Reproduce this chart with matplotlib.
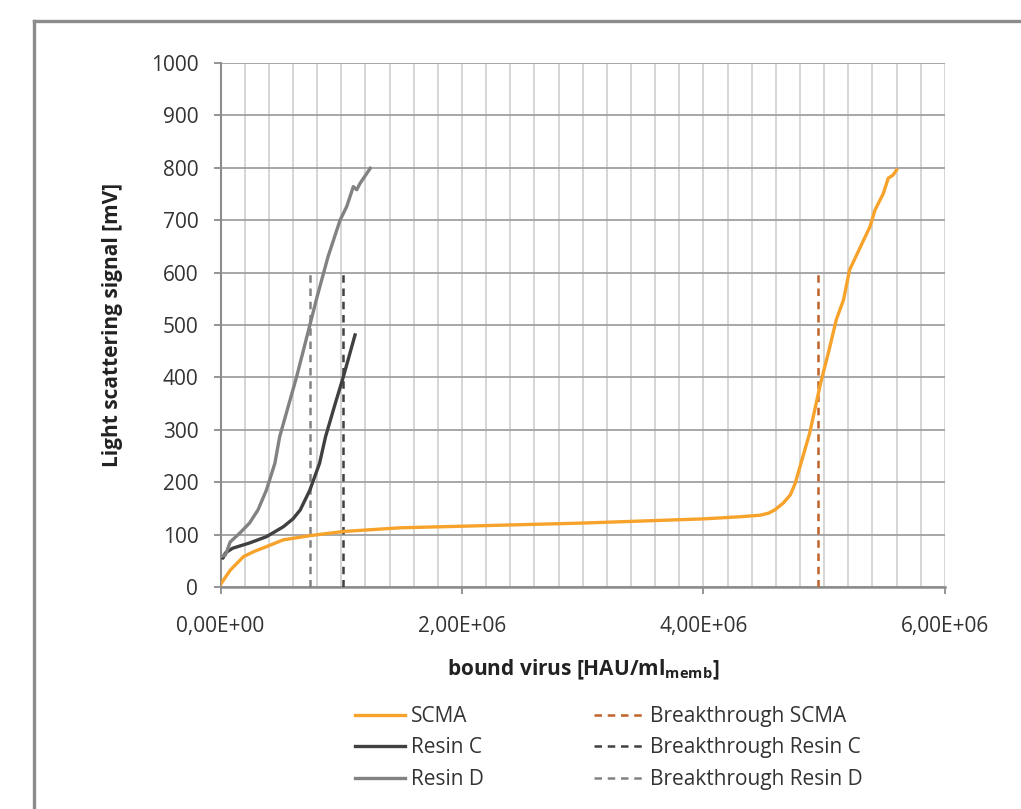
import matplotlib
matplotlib.use("Agg")
import matplotlib.pyplot as plt
from matplotlib.ticker import FuncFormatter, MultipleLocator
from matplotlib.lines import Line2D

plt.rcParams['font.family'] = ['Open Sans', 'DejaVu Sans']

# bound virus [HAU/ml_memb] vs light scattering signal [mV]
scma_x = [0, 0.08e6, 0.19e6, 0.28e6, 0.38e6, 0.52e6, 0.74e6, 1.02e6, 1.49e6, 2.0e6,
          2.5e6, 3.0e6, 3.5e6, 4.0e6, 4.30e6, 4.47e6, 4.54e6, 4.59e6, 4.66e6,
          4.72e6, 4.76e6, 4.80e6, 4.88e6, 4.97e6, 5.04e6, 5.10e6, 5.16e6, 5.21e6,
          5.30e6, 5.38e6, 5.42e6, 5.49e6, 5.53e6, 5.57e6, 5.60e6]
scma_y = [5, 32, 58, 68, 77, 90, 98, 106, 113, 116,
          119, 122, 126, 130, 134, 137, 141, 147, 160,
          176, 198, 230, 294, 389, 452, 510, 548, 605,
          649, 688, 719, 751, 780, 786, 796]

resin_c_x = [0, 0.02e6, 0.04e6, 0.10e6, 0.24e6, 0.38e6, 0.52e6, 0.60e6, 0.66e6,
             0.74e6, 0.82e6, 0.87e6, 0.95e6, 1.017e6, 1.114e6]
resin_c_y = [58, 55, 65, 74, 84, 96, 115, 130, 147,
             185, 236, 287, 350, 401, 481]

resin_d_x = [0, 0.04e6, 0.08e6, 0.16e6, 0.24e6, 0.31e6, 0.38e6, 0.45e6, 0.49e6,
             0.63e6, 0.74e6, 0.80e6, 0.89e6, 0.99e6, 1.045e6, 1.10e6, 1.128e6,
             1.155e6, 1.24e6]
resin_d_y = [58, 61, 86, 103, 122, 147, 185, 236, 287,
             401, 500, 554, 630, 700, 726, 764, 758,
             770, 799]

breakthrough = {'SCMA': 4.95e6, 'Resin C': 1.017e6, 'Resin D': 0.741e6}
breakthrough_top = 600

orange = '#F7A22B'
dark = '#404040'
grey = '#828282'
brown = '#C0622A'

fig = plt.figure(figsize=(10.21, 8.09), dpi=100)
ax = fig.add_axes([0.216, 0.2744, 0.7095, 0.6478])

# outer frame
fig.add_artist(Line2D([0.0333, 0.0333], [0, 0.974], color='#8c8c8c', lw=2.4,
                      transform=fig.transFigure))
fig.add_artist(Line2D([0.0333, 1.0], [0.974, 0.974], color='#8c8c8c', lw=2.4,
                      transform=fig.transFigure))

ax.plot(scma_x, scma_y, color=orange, lw=2.4, label='SCMA', zorder=4)
ax.plot(resin_c_x, resin_c_y, color=dark, lw=2.4, label='Resin C', zorder=4)
ax.plot(resin_d_x, resin_d_y, color=grey, lw=2.4, label='Resin D', zorder=4)

dash = (0, (3, 2.3))
ax.plot([breakthrough['SCMA']] * 2, [0, breakthrough_top], color=brown, lw=1.8,
        ls=dash, label='Breakthrough SCMA', zorder=3)
ax.plot([breakthrough['Resin C']] * 2, [0, breakthrough_top], color=dark, lw=1.8,
        ls=dash, label='Breakthrough Resin C', zorder=3)
ax.plot([breakthrough['Resin D']] * 2, [0, breakthrough_top], color=grey, lw=1.8,
        ls=dash, label='Breakthrough Resin D', zorder=3)

ax.set_xlim(0, 6e6)
ax.set_ylim(0, 1000)
ax.xaxis.set_major_locator(MultipleLocator(2e6))
ax.xaxis.set_minor_locator(MultipleLocator(2e5))
ax.yaxis.set_major_locator(MultipleLocator(100))
ax.xaxis.set_major_formatter(FuncFormatter(lambda v, p: ('%.2E' % v).replace('.', ',')))

ax.grid(True, which='minor', axis='x', color='#D2D2D2', lw=1.3)
ax.grid(True, which='major', axis='x', color='#D2D2D2', lw=1.3)
ax.grid(True, which='major', axis='y', color='#A0A0A0', lw=1.3)
ax.set_axisbelow(True)

for s in ['top', 'right']:
    ax.spines[s].set_visible(False)
ax.spines['left'].set_color('#8c8c8c')
ax.spines['bottom'].set_color('#8c8c8c')
ax.spines['left'].set_linewidth(1.5)
ax.spines['bottom'].set_linewidth(1.8)

ax.tick_params(axis='both', which='major', length=5, color='#8c8c8c', width=1.3,
               labelsize=15, labelcolor='#333333')
ax.tick_params(axis='y', pad=11)
ax.tick_params(axis='x', pad=16)
ax.tick_params(axis='x', which='minor', length=0)

ax.set_ylabel('Light scattering signal [mV]', fontsize=15, fontweight='bold',
              color='#222222', labelpad=20)
ax.set_xlabel(r'bound virus [HAU/ml$_{\mathregular{memb}}$]', fontsize=15,
              fontweight='bold', color='#222222', labelpad=15)

fig.legend(loc='upper left', bbox_to_anchor=(355 / 1021, 1 - 706 / 809),
           bbox_transform=fig.transFigure, ncol=2, frameon=False,
           fontsize=15, handlelength=2.4, handletextpad=0.3, columnspacing=5.25,
           labelspacing=0.5, borderpad=0, borderaxespad=0,
           labelcolor='#333333')

fig.savefig('out.png', dpi=100)
